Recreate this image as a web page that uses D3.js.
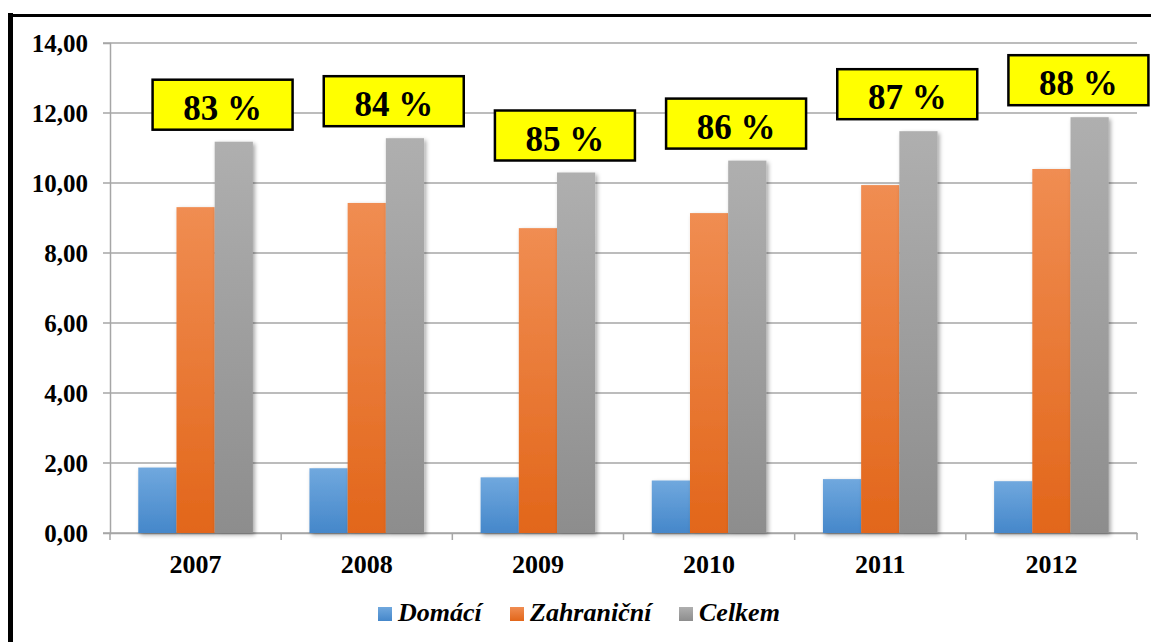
<!DOCTYPE html>
<html>
<head>
<meta charset="utf-8">
<script src="https://cdn.jsdelivr.net/npm/d3@7"></script>
<style>
  body { margin: 0; background: #fff; }
</style>
</head>
<body>
<svg id="chart" width="1151" height="642"></svg>
<script>
var roky = ["2007", "2008", "2009", "2010", "2011", "2012"];
var domaci = [1.87, 1.85, 1.59, 1.50, 1.54, 1.48];
var zahranicni = [9.31, 9.43, 8.71, 9.14, 9.94, 10.40];
var celkem = [11.18, 11.28, 10.30, 10.64, 11.48, 11.88];
var podil = ["83 %", "84 %", "85 %", "86 %", "87 %", "88 %"];
var serie = ["Domácí", "Zahraniční", "Celkem"];
var yTicks = [0, 2, 4, 6, 8, 10, 12, 14];

var pismo = "Liberation Serif";

var width = 1151,
  height = 642,
  margin = {left: 110, right: 14, top: 43, bottom: 109},
  svg = d3.select("#chart");

var defs = svg.append("defs");
var barvy = [["#70a8de", "#4587ca"], ["#f08d52", "#e2661a"], ["#afafaf", "#8d8d8d"]];
barvy.forEach(function (c, i) {
  var g = defs.append("linearGradient").attr("id", "grad" + i)
    .attr("x1", 0).attr("y1", 0).attr("x2", 0).attr("y2", 1);
  g.append("stop").attr("offset", "0%").attr("stop-color", c[0]);
  g.append("stop").attr("offset", "100%").attr("stop-color", c[1]);
});
defs.append("filter").attr("id", "stin")
  .attr("x", "-30%").attr("y", "-10%").attr("width", "160%").attr("height", "130%")
  .append("feDropShadow")
  .attr("dx", 2).attr("dy", 2).attr("stdDeviation", 2)
  .attr("flood-color", "#000").attr("flood-opacity", 0.35);

var xScale = d3.scaleBand()
  .domain(roky)
  .range([margin.left, width - margin.right]);
var xInner = d3.scaleBand()
  .domain(serie)
  .range([0, xScale.bandwidth()])
  .paddingOuter(0.74);
var yScale = d3.scaleLinear()
  .domain([0, 14])
  .range([height - margin.bottom, margin.top]);

// mrizka
svg.append("g")
  .selectAll("line")
  .data(yTicks)
  .enter().append("line")
  .attr("x1", margin.left - 7)
  .attr("x2", width - margin.right)
  .attr("y1", function (d) { return yScale(d); })
  .attr("y2", function (d) { return yScale(d); })
  .attr("stroke", "#a6a6a6")
  .attr("stroke-width", 1.5);

// osa y
var yAxis = svg.append("g")
  .attr("transform", "translate(" + margin.left + ",0)")
  .call(d3.axisLeft(yScale).tickValues(yTicks).tickSize(7).tickPadding(15)
    .tickFormat(function (d) { return d3.format(".2f")(d).replace(".", ","); }));
yAxis.attr("font-family", pismo).attr("font-size", 25).attr("font-weight", "bold");
yAxis.select(".domain").attr("stroke", "#a6a6a6").attr("stroke-width", 1.5);
yAxis.selectAll(".tick line").remove();
yAxis.selectAll("text").attr("fill", "#000");

// osa x
var xAxis = svg.append("g")
  .attr("transform", "translate(0," + yScale(0) + ")")
  .call(d3.axisBottom(xScale).tickSize(0).tickPadding(22));
xAxis.attr("font-family", pismo).attr("font-size", 26).attr("font-weight", "bold");
xAxis.select(".domain").attr("stroke", "#a6a6a6").attr("stroke-width", 1.5);
xAxis.selectAll("text").attr("fill", "#000");
var hranice = roky.map(function (r) { return xScale(r); }).concat([width - margin.right]);
xAxis.selectAll(".hranice")
  .data(hranice)
  .enter().append("line")
  .attr("x1", function (d) { return d; })
  .attr("x2", function (d) { return d; })
  .attr("y1", 0).attr("y2", 7)
  .attr("stroke", "#a6a6a6").attr("stroke-width", 1.5);

// sloupce
var hodnoty = [domaci, zahranicni, celkem];
serie.forEach(function (s, si) {
  svg.append("g")
    .selectAll("rect")
    .data(roky)
    .enter().append("rect")
    .attr("x", function (d) { return xScale(d) + xInner(s); })
    .attr("width", xInner.bandwidth())
    .attr("y", function (d, i) { return yScale(hodnoty[si][i]); })
    .attr("height", function (d, i) { return yScale(0) - yScale(hodnoty[si][i]); })
    .attr("fill", "url(#grad" + si + ")")
    .attr("filter", "url(#stin)");
});

// popisky s podilem
var stitky = svg.append("g")
  .selectAll("g")
  .data(roky)
  .enter().append("g")
  .attr("transform", function (d, i) {
    var cx = xScale(d) + xScale.bandwidth() / 2 + 27;
    var by = yScale(celkem[i]) - 12;
    return "translate(" + cx + "," + by + ")";
  });
stitky.append("rect")
  .attr("x", -70).attr("y", -50)
  .attr("width", 140).attr("height", 50)
  .attr("fill", "#ffff00")
  .attr("stroke", "#000")
  .attr("stroke-width", 2.5);
stitky.append("text")
  .attr("x", 0).attr("y", -10)
  .attr("text-anchor", "middle")
  .attr("font-family", pismo)
  .attr("font-weight", "bold")
  .attr("font-size", 35)
  .attr("fill", "#000")
  .text(function (d, i) { return podil[i]; });

// legenda
var legX = [378, 510, 679];
var leg = svg.append("g")
  .selectAll("g")
  .data(serie)
  .enter().append("g")
  .attr("transform", function (d, i) { return "translate(" + legX[i] + ",607)"; });
leg.append("rect")
  .attr("width", 14).attr("height", 14)
  .attr("fill", function (d, i) { return "url(#grad" + i + ")"; });
leg.append("text")
  .attr("x", 20).attr("y", 14)
  .attr("font-family", pismo)
  .attr("font-weight", "bold")
  .attr("font-style", "italic")
  .attr("font-size", 26)
  .attr("fill", "#000")
  .text(function (d) { return d; });

// ramecek
svg.append("line")
  .attr("x1", 10.5).attr("x2", 10.5).attr("y1", 13).attr("y2", height)
  .attr("stroke", "#000").attr("stroke-width", 5);
svg.append("line")
  .attr("x1", 8).attr("x2", width).attr("y1", 15.5).attr("y2", 15.5)
  .attr("stroke", "#000").attr("stroke-width", 3);
</script>
</body>
</html>
